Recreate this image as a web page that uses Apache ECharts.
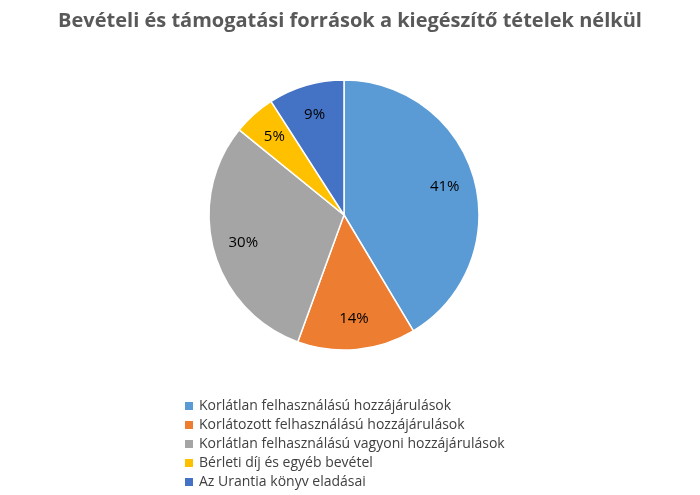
<!DOCTYPE html>
<html><head><meta charset="utf-8">
<script src="https://cdn.jsdelivr.net/npm/echarts@6/dist/echarts.min.js"></script>
<style>html,body{margin:0;padding:0;background:#fff}#c{width:700px;height:495px}</style>
</head><body><div id="c"></div>
<script>
const categories = ['Korlátlan felhasználású hozzájárulások','Korlátozott felhasználású hozzájárulások','Korlátlan felhasználású vagyoni hozzájárulások','Bérleti díj és egyéb bevétel','Az Urantia könyv eladásai'];
const values = [41, 14, 30, 5, 9];
const colors = ['#5B9BD5','#ED7D31','#A5A5A5','#FFC000','#4472C4'];
const data = categories.map((n,i)=>({name:n,value:values[i],itemStyle:{color:colors[i]}}));
const chart = echarts.init(document.getElementById('c'));
chart.setOption({
  animation:false,
  title:{text:'Bevételi és támogatási források a kiegészítő tételek nélkül',left:'center',top:6,
    textStyle:{fontFamily:'Open Sans',fontSize:20,fontWeight:'bold',color:'#595959'}},
  legend:{orient:'vertical',left:178,top:394,itemWidth:10,itemHeight:10,itemGap:5,icon:'rect',
    textStyle:{fontFamily:'Open Sans',fontSize:14,color:'#404040'},data:categories},
  series:[
    {type:'pie',center:[344,215],radius:[0,135],startAngle:90,clockwise:true,
     itemStyle:{borderColor:'#fff',borderWidth:1.5},label:{show:false},labelLine:{show:false},data:data},
    {type:'pie',center:[344,215],radius:[68,135],startAngle:90,clockwise:true,silent:true,
     legendHoverLink:false,
     itemStyle:{color:'rgba(0,0,0,0)',borderWidth:0},
     label:{show:true,position:'inside',formatter:'{c}%',fontFamily:'Open Sans',fontSize:15,color:'#000'},
     labelLine:{show:false},
     data:categories.map((n,i)=>({name:n+' ',value:values[i]}))}
  ]
});
</script></body></html>
